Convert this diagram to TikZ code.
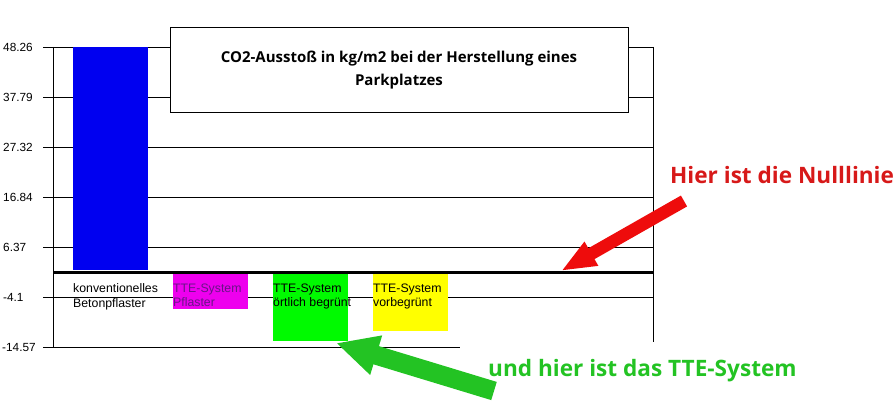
\documentclass[tikz,border=0pt]{standalone}
\usepackage{fontspec}
\setmainfont{Liberation Sans}
\newfontfamily\notefont{Open Sans}
\usetikzlibrary{arrows.meta}

\definecolor{barblue}{RGB}{0,0,240}
\definecolor{barmagenta}{RGB}{238,0,238}
\definecolor{bargreen}{RGB}{0,250,0}
\definecolor{baryellow}{RGB}{255,255,0}
\definecolor{notered}{RGB}{238,12,12}
\definecolor{notetextred}{RGB}{215,25,25}
\definecolor{notegreen}{RGB}{35,195,35}
\definecolor{labelpurple}{RGB}{105,20,135}

\tikzset{
	grid line/.style={line width=0.9pt},
	tick label/.style={anchor=west, inner sep=0, font=\fontsize{11.8}{12}\selectfont},
	bar label/.style={anchor=north west, inner sep=0, align=left, font=\fontsize{12.3}{14.5}\selectfont},
	note/.style={anchor=west, inner sep=0, font=\notefont\bfseries\fontsize{22.6}{24}\selectfont},
}

\begin{document}
\begin{tikzpicture}[x=1pt, y=-1pt]
		\useasboundingbox (0, 0) rectangle (895, 406);
		% grid and axis
		\foreach \y/\v [count=\i] in {47/48.26, 97/37.79, 147/27.32, 197/16.84, 247/6.37, 297/-4.1} {
			\draw [grid line] (43, \y) -- (653, \y);
			\node [tick label] (tick\i) at (3, \y) {\v};
		}
		\draw [grid line] (43, 347) -- (460, 347);
		\node [tick label] (tick7) at (2, 347) {-14.57};
		\draw [grid line] (53, 47) -- (53, 347);
		\draw [grid line] (653, 47) -- (653, 342);
		% bars
		\fill [barblue] (73, 47) rectangle (148, 270);
		\fill [barmagenta] (173, 272) rectangle (248, 309);
		\fill [bargreen] (273, 272) rectangle (348, 341);
		\fill [baryellow] (373, 272) rectangle (448, 331);
		\draw [line width=2.2pt] (53, 272.5) -- (653, 272.5);
		\node [bar label] (label1) at (73, 283.5) {konventionelles\\Betonpflaster};
		\node [bar label, labelpurple] (label2) at (173, 283.5) {TTE-System\\Pflaster};
		\node [bar label] (label3) at (273, 283.5) {TTE-System\\örtlich begrünt};
		\node [bar label] (label4) at (373, 283.5) {TTE-System\\vorbegrünt};
		% title
		\node [draw, line width=1pt, fill=white, minimum width=458pt, minimum height=85pt, inner sep=0, align=center,
			font=\notefont\bfseries\fontsize{15}{23}\selectfont] (title) at (399, 70.5)
			{CO2-Ausstoß in kg/m2 bei der Herstellung eines\\Parkplatzes};
		% notes
		\node [note, notetextred] (null note) at (670, 175) {Hier ist die Nulllinie};
		\node [note, notegreen] (tte note) at (488, 371) {und hier ist das TTE-System};
		\coordinate (red tail) at (684, 201);
		\coordinate (red tip) at (561, 271);
		\coordinate (green tail) at (494, 391);
		\coordinate (green tip) at (336, 343);
		\draw [notered, line width=12.5pt, -{Triangle[length=35pt, width=25pt]}] (red tail) -- (red tip);
		\draw [notegreen, line width=19pt, -{Triangle[length=42pt, width=38pt]}] (green tail) -- (green tip);
	\end{tikzpicture}
\end{document}
